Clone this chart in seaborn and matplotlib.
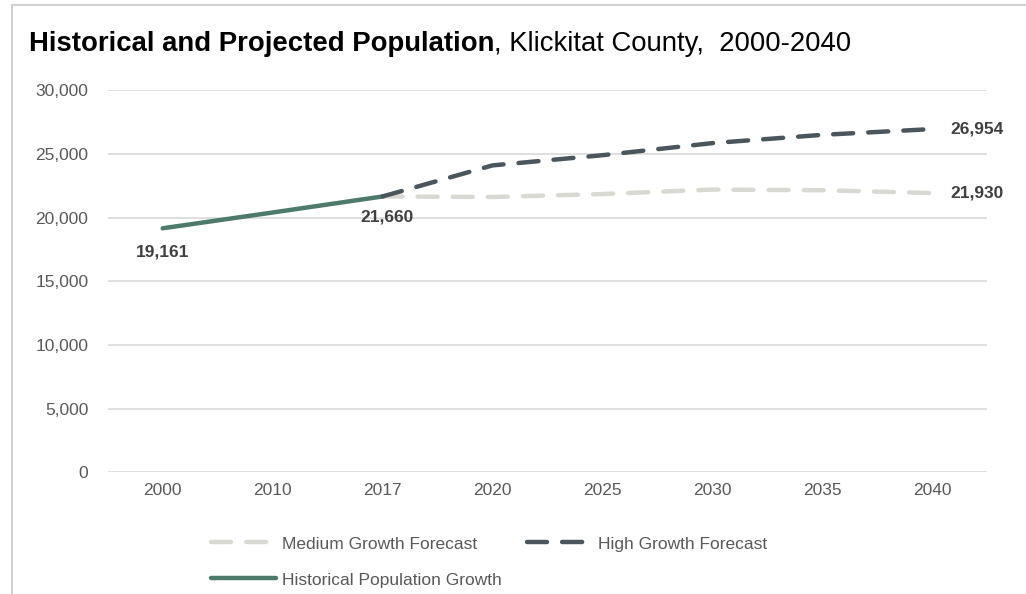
import numpy as np
import pandas as pd
import matplotlib
matplotlib.use('Agg')
import matplotlib.pyplot as plt
import seaborn as sns
from matplotlib.ticker import FuncFormatter
from matplotlib.patches import Rectangle

years = ['2000', '2010', '2017', '2020', '2025', '2030', '2035', '2040']
historical = [19161, 20400, 21660]
medium = [21660, 21620, 21850, 22200, 22150, 21930]
high = [21660, 24100, 24900, 25850, 26500, 26954]

GREEN = '#4E7A6B'
DARK = '#4A565C'
LIGHT = '#D9D9D3'
TXT = '#595959'

sns.set_theme(style='white')
plt.rcParams['font.family'] = ['Liberation Sans', 'DejaVu Sans']

pos = np.arange(len(years))
hist_df = pd.DataFrame({'x': pos[:3], 'y': historical})
med_df = pd.DataFrame({'x': pos[2:], 'y': medium})
high_df = pd.DataFrame({'x': pos[2:], 'y': high})

fig = plt.figure(figsize=(10.26, 5.94), dpi=100)
ax = fig.add_axes([0.105, 0.205, 0.857, 0.643])

sns.lineplot(data=med_df, x='x', y='y', ax=ax, color=LIGHT, lw=3.2,
             label='Medium Growth Forecast')
sns.lineplot(data=hist_df, x='x', y='y', ax=ax, color=GREEN, lw=3.2,
             label='Historical Population Growth')
sns.lineplot(data=high_df, x='x', y='y', ax=ax, color=DARK, lw=3.2,
             label='High Growth Forecast')
lines = ax.get_lines()
for ln in (lines[0], lines[2]):
    ln.set_linestyle((0, (4.5, 3.4)))
    ln.set_dash_capstyle('round')
lines[1].set_solid_capstyle('round')

ax.set_xlim(-0.5, len(years) - 0.5)
ax.set_ylim(0, 30000)
ax.set_yticks(np.arange(0, 30001, 5000))
ax.yaxis.set_major_formatter(FuncFormatter(lambda v, p: f'{int(v):,}'))
ax.set_xticks(pos)
ax.set_xticklabels(years)
ax.tick_params(axis='both', length=0, labelsize=12.5, colors=TXT, pad=8)
ax.tick_params(axis='y', pad=14)
ax.set_xlabel('')
ax.set_ylabel('')
ax.grid(axis='y', color='#D9D9D9', lw=1.2)
for s in ax.spines.values():
    s.set_visible(False)

# data labels
lab = dict(fontsize=12.5, fontweight='bold', color='#404040')
ax.text(pos[0], historical[0] - 1300, f'{historical[0]:,}', ha='center', va='top', **lab)
ax.text(pos[2] + 0.04, historical[2] - 1000, f'{historical[2]:,}', ha='center', va='top', **lab)
ax.text(pos[-1] + 0.17, high[-1], f'{high[-1]:,}', ha='left', va='center', **lab)
ax.text(pos[-1] + 0.17, medium[-1], f'{medium[-1]:,}', ha='left', va='center', **lab)

# legend: Medium, High on row 1; Historical on row 2
h, l = ax.get_legend_handles_labels()
leg = ax.legend(h, l, ncol=2,
                loc='upper left', bbox_to_anchor=(0.1, -0.127), frameon=False,
                fontsize=12.5, handlelength=3.7, handletextpad=0.4,
                columnspacing=1.4, labelspacing=1.2)
for t in leg.get_texts():
    t.set_color(TXT)

# title
bold = fig.text(0.028, 0.914, 'Historical and Projected Population', fontsize=19.8,
                fontweight='bold', color='black', va='baseline')
ax.annotate(', Klickitat County,  2000-2040', xy=(1, 0), xycoords=bold,
            fontsize=19.8, color='black', va='bottom', annotation_clip=False)

# frame
fig.patches.append(Rectangle((0.012, -0.05), 1.1, 1.042, transform=fig.transFigure,
                             fill=False, edgecolor='#D0D0D0', lw=1.5))

fig.savefig('out.png', dpi=100)
